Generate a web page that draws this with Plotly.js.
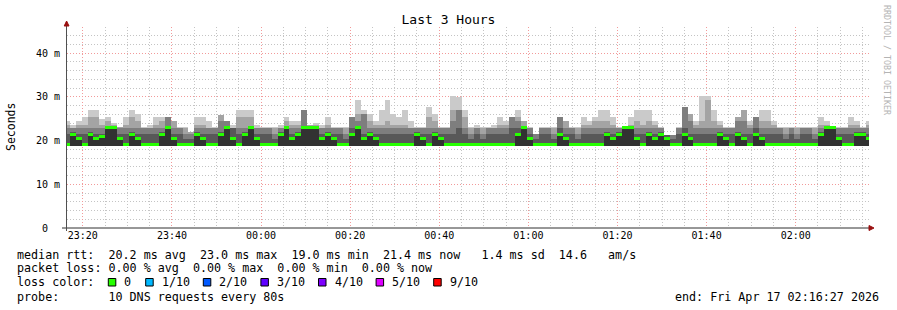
<!DOCTYPE html>
<html><head><meta charset="utf-8">
<script src="https://cdn.plot.ly/plotly-3.0.1.min.js"></script>
<style>html,body{margin:0;padding:0;background:#fff;}#chart{width:897px;height:310px;}</style>
</head><body><div id="chart"></div>
<script>
// ---- time axis ----
const firstStepUTC = Date.UTC(2026, 3, 16, 23, 15, 43);
const stepSeconds = 80;
const rangeStartUTC = Date.UTC(2026, 3, 16, 23, 16, 27);
const rangeEndUTC = Date.UTC(2026, 3, 17, 2, 16, 27);

// ---- data (ms), one value per 80 s step ----
const minRtt = [
18.8,18.8,18.8,18.8,18.8,18.8,18.8,18.8,18.8,18.8,
18.8,18.8,18.8,18.8,18.8,18.8,18.8,18.8,18.8,18.8,
18.8,18.8,18.8,18.8,18.8,18.8,18.8,18.8,18.8,18.8,
18.8,18.8,18.8,18.8,18.8,18.8,18.8,18.8,18.8,18.8,
18.8,18.8,18.8,18.8,18.8,18.8,18.8,18.8,18.8,18.8,
18.8,18.8,18.8,18.8,18.8,18.8,18.8,18.8,18.8,18.8,
18.8,18.8,18.8,18.8,18.8,18.8,18.8,18.8,18.8,18.8,
18.8,18.8,18.8,18.8,18.8,18.8,18.8,18.8,18.8,18.8,
18.8,18.8,18.8,18.8,18.8,18.8,18.8,18.8,18.8,18.8,
18.8,18.8,18.8,18.8,18.8,18.8,18.8,18.8,18.8,18.8,
18.8,18.8,18.8,18.8,18.8,18.8,18.8,18.8,18.8,18.8,
18.8,18.8,18.8,18.8,18.8,18.8,18.8,18.8,18.8,18.8,
18.8,18.8,18.8,18.8,18.8,18.8,18.8,18.8,18.8,18.8,
18.8,18.8,18.8,18.8,18.8,18.8];
const medianRtt = [
19.0,21.4,20.4,19.0,21.4,20.4,20.9,22.9,22.9,20.4,
19.0,21.4,20.4,19.0,19.0,19.0,21.4,22.9,20.4,19.0,
19.0,19.0,21.4,20.4,19.0,19.0,21.4,22.9,20.4,19.0,
21.4,22.9,20.4,19.0,19.0,19.0,21.4,22.9,20.4,21.4,
22.9,22.9,22.9,20.4,21.4,20.4,19.0,19.0,21.4,22.9,
20.4,21.4,20.4,19.0,19.0,19.0,19.0,19.0,19.0,21.4,
20.4,19.0,21.4,20.4,19.0,19.0,19.0,19.0,19.0,19.0,
19.0,19.0,19.0,19.0,19.0,19.0,21.4,22.9,20.4,19.0,
19.0,19.0,19.0,21.4,20.4,19.0,19.0,19.0,19.0,19.0,
19.0,21.4,20.4,21.4,22.9,22.9,20.4,19.0,21.4,20.4,
21.4,20.4,19.0,19.0,21.4,20.4,19.0,19.0,19.0,19.0,
21.4,20.4,19.0,21.4,20.4,19.0,21.4,20.4,19.0,19.0,
19.0,19.0,19.0,19.0,19.0,19.0,19.0,21.4,22.9,22.9,
20.4,19.0,19.0,21.4,21.4,20.4];
const ping7 = [
21.4,22.0,21.4,21.4,22.0,21.4,21.4,22.9,22.9,21.4,
21.4,22.0,21.4,21.4,21.4,21.4,22.0,22.9,21.4,21.4,
20.4,20.4,22.0,21.4,21.4,21.4,22.0,22.9,22.9,21.4,
22.0,22.9,21.4,21.4,21.4,20.4,22.0,22.9,21.4,22.0,
22.9,22.9,22.9,21.4,22.0,21.4,21.4,20.4,22.9,22.9,
21.4,22.0,21.4,21.4,21.4,21.4,21.4,21.4,21.4,22.0,
21.4,21.4,22.0,21.4,21.4,21.4,22.9,21.4,20.4,21.4,
20.4,21.4,21.4,21.4,21.4,22.9,22.9,22.9,21.4,20.4,
21.4,21.4,20.4,22.9,21.4,21.4,20.4,21.4,21.4,21.4,
21.4,22.0,21.4,22.0,22.9,22.9,21.4,21.4,22.0,21.4,
22.0,21.2,20.4,21.4,22.9,21.4,21.4,21.4,21.4,21.4,
22.0,21.4,21.4,22.0,21.4,21.4,22.9,21.4,21.4,21.4,
21.4,20.4,21.4,20.4,21.4,21.4,20.4,22.0,22.9,22.9,
21.4,21.4,21.4,22.0,22.0,21.4];
const ping8 = [
22.9,22.9,22.9,22.9,22.9,22.9,22.9,22.9,22.9,22.9,
22.9,22.9,22.9,22.9,22.9,22.9,22.9,25.4,22.9,22.9,
21.4,21.4,22.9,22.9,22.9,22.9,24.4,24.4,22.9,22.9,
22.9,22.9,22.9,22.9,22.9,21.4,22.9,22.9,22.9,22.9,
26.9,22.9,22.9,22.9,22.9,22.9,22.9,21.4,25.4,24.4,
26.1,22.9,22.9,22.9,22.9,22.9,22.9,22.9,22.9,22.9,
22.9,22.9,22.9,22.9,22.9,24.4,26.9,22.9,21.4,22.9,
21.4,22.9,22.9,22.9,22.9,25.4,24.4,22.9,22.9,21.4,
22.9,22.9,21.4,25.4,22.9,22.9,21.4,22.9,22.9,22.9,
22.9,22.9,22.9,22.9,22.9,22.9,22.9,22.9,22.9,22.9,
22.9,21.2,21.2,22.9,27.7,24.4,22.9,22.9,22.9,22.9,
22.9,22.9,22.9,24.4,24.4,22.9,25.4,22.9,22.9,22.9,
22.9,21.4,22.9,21.4,22.9,22.9,21.4,22.9,22.9,22.9,
22.9,22.9,22.9,22.9,22.9,22.9];
const ping9 = [
23.5,22.9,23.5,23.5,25.4,25.4,23.5,24.4,23.5,23.0,
23.5,25.4,24.4,22.9,22.9,23.5,24.4,25.4,24.4,22.9,
22.9,22.0,23.5,23.5,22.9,22.9,25.8,24.4,22.9,25.4,
25.4,25.4,22.9,22.9,22.9,22.9,22.9,24.4,23.5,23.5,
26.9,23.5,23.5,22.9,23.5,22.9,22.9,22.9,25.4,26.1,
26.1,24.4,23.5,23.5,24.4,23.5,23.5,23.5,22.9,22.9,
22.9,25.4,24.4,22.9,22.9,26.9,26.9,25.4,22.9,22.9,
22.9,22.9,22.9,23.5,23.5,25.4,25.4,24.4,22.9,21.4,
22.9,22.9,22.9,25.4,24.4,22.9,22.9,23.5,23.5,24.4,
24.4,24.4,23.5,22.9,22.9,23.5,24.4,23.5,24.4,23.5,
22.9,21.2,21.2,22.9,27.7,26.1,23.5,24.4,29.2,24.4,
23.5,22.9,22.9,25.4,26.9,23.5,25.4,24.4,24.4,23.5,
22.9,22.9,22.9,22.9,22.9,22.9,22.9,23.5,23.5,22.9,
22.9,22.9,23.5,23.5,22.9,23.5];
const maxRtt = [
24.4,23.5,24.4,25.4,26.9,26.9,25.0,25.4,24.0,23.0,
25.4,26.9,26.1,23.0,23.5,25.4,25.4,25.4,24.4,23.0,
23.0,22.0,25.4,25.4,24.4,23.0,25.8,24.4,23.5,26.9,
26.9,26.9,23.5,23.0,23.0,23.0,23.5,25.4,24.4,24.4,
26.9,23.5,24.0,23.5,25.4,23.0,23.0,23.0,25.4,29.2,
26.9,26.1,24.4,26.9,29.2,26.1,25.4,26.9,24.4,23.0,
23.0,27.7,26.1,23.0,23.0,30.2,30.0,26.9,23.0,23.5,
23.0,23.0,23.5,25.4,24.4,25.4,26.9,24.4,23.0,21.4,
23.0,23.0,23.0,25.4,24.4,23.0,23.0,25.4,24.4,25.4,
26.9,26.9,25.4,23.0,23.0,25.4,26.9,26.9,26.9,24.4,
23.0,21.2,21.2,23.0,27.7,26.1,24.4,30.2,30.2,26.9,
24.4,23.0,23.0,25.4,26.9,24.4,25.4,26.9,26.9,24.4,
23.0,23.0,23.0,23.0,23.0,23.0,23.0,25.4,24.4,23.0,
23.0,23.0,25.4,24.4,23.0,24.4];

const lossLabels = ['0', '1/10', '2/10', '3/10', '4/10', '5/10', '9/10'];
const lossColors = ['#26ff00', '#00b8ff', '#0059ff', '#5e00ff', '#7e00ff', '#dd00ff', '#ff0000'];
const yTickAlias = {'0': '0\u00a0\u00a0', '10': '10 m', '20': '20 m', '30': '30 m', '40': '40 m'};
const statsLines = [
  'median rtt:  20.2 ms avg  23.0 ms max  19.0 ms min  21.4 ms now   1.4 ms sd  14.6   am/s',
  'packet loss: 0.00 % avg  0.00 % max  0.00 % min  0.00 % now',
  'loss color:',
  'probe:       10 DNS requests every 80s'
];
const endLabel = 'end: Fri Apr 17 02:16:27 2026';

// ---- geometry helpers (pixel -> paper) ----
const PL = 67, PR = 869, PT = 27, PB = 228;
const px = x => (x - PL) / (PR - PL);
const py = y => (PB - y) / (PB - PT);
const nb = s => s.replace(/ /g, '\u00a0');
const MONO = 'DejaVu Sans Mono, Liberation Mono, monospace';

const xCenters = medianRtt.map((_, i) => firstStepUTC + (i * stepSeconds + stepSeconds / 2) * 1000);

function band(top, color) {
  return {
    type: 'bar', x: xCenters, base: minRtt,
    y: top.map((v, i) => v - minRtt[i]),
    width: stepSeconds * 1000,
    marker: {color: color, line: {width: 0}},
    hoverinfo: 'skip', showlegend: false
  };
}
const traces = [
  band(maxRtt, '#cacaca'),
  band(ping9, '#a4a4a4'),
  band(ping8, '#7e7e7e'),
  band(ping7, '#585858'),
  band(medianRtt, '#323232'),
  {
    type: 'bar', x: xCenters,
    base: medianRtt.map(v => v - 0.34),
    y: medianRtt.map(() => 0.69),
    width: stepSeconds * 1000,
    marker: {color: lossColors[0], line: {width: 0}},
    hoverinfo: 'skip', showlegend: false
  }
];

const annotations = [];
const shapes = [];
const lineY = [254.5, 268.3, 282.3, 296.5];
statsLines.forEach((t, i) => annotations.push({
  text: nb(t), x: px(15), y: py(lineY[i]), xref: 'paper', yref: 'paper',
  xanchor: 'left', yanchor: 'middle', showarrow: false,
  font: {family: MONO, size: 11.7, color: '#000'}
}));
annotations.push({
  text: nb(endLabel), x: px(881), y: py(lineY[3]), xref: 'paper', yref: 'paper',
  xanchor: 'right', yanchor: 'middle', showarrow: false,
  font: {family: MONO, size: 11.7, color: '#000'}
});
lossLabels.forEach((lab, i) => {
  const bx = i === 0 ? 108.3 : 145.7 + 57.6 * (i - 1);
  shapes.push({type: 'rect', xref: 'paper', yref: 'paper',
    x0: px(bx), x1: px(bx + 7.5), y0: py(286), y1: py(278.5),
    fillcolor: lossColors[i], line: {color: '#000', width: 1}});
  annotations.push({
    text: nb(lab), x: px(bx + 14), y: py(lineY[2]), xref: 'paper', yref: 'paper',
    xanchor: 'left', yanchor: 'middle', showarrow: false,
    font: {family: MONO, size: 11.7, color: '#000'}
  });
});
annotations.push({
  text: 'Seconds', textangle: -90, x: px(11), y: py(127), xref: 'paper', yref: 'paper',
  xanchor: 'center', yanchor: 'middle', showarrow: false,
  font: {family: MONO, size: 11.5, color: '#000'}
});
annotations.push({
  text: nb('RRDTOOL / TOBI OETIKER'), textangle: 90, x: px(887), y: py(60), xref: 'paper', yref: 'paper',
  xanchor: 'center', yanchor: 'middle', showarrow: false,
  font: {family: MONO, size: 8.3, color: '#b4b4b4'}
});

// axes lines and arrows
shapes.push({type: 'line', xref: 'paper', yref: 'paper', x0: px(62), x1: px(870), y0: 0, y1: 0,
  line: {color: '#303030', width: 1}});
shapes.push({type: 'line', xref: 'paper', yref: 'paper', x0: px(66.5), x1: px(66.5), y0: py(231), y1: py(25),
  line: {color: '#505050', width: 1}});
shapes.push({type: 'path', xref: 'paper', yref: 'paper',
  path: `M${px(869)},${py(225.5)} L${px(874)},${py(228)} L${px(869)},${py(230.5)} Z`,
  fillcolor: '#9a1010', line: {color: '#9a1010', width: 1}});
shapes.push({type: 'path', xref: 'paper', yref: 'paper',
  path: `M${px(64.2)},${py(26)} L${px(66.6)},${py(21)} L${px(69)},${py(26)} Z`,
  fillcolor: '#9a1010', line: {color: '#9a1010', width: 1}});

const layout = {
  width: 897, height: 310,
  margin: {l: PL, r: 897 - PR, t: PT, b: 310 - PB, pad: 0},
  paper_bgcolor: '#ffffff', plot_bgcolor: '#ffffff',
  barmode: 'overlay', bargap: 0, showlegend: false,
  font: {family: MONO, size: 10, color: '#000'},
  title: {text: 'Last 3 Hours', x: 0.5, xanchor: 'center', y: 1 - 19 / 310, yanchor: 'middle',
    font: {family: MONO, size: 13, color: '#000'}},
  xaxis: {
    type: 'date', range: [rangeStartUTC, rangeEndUTC],
    tick0: Date.UTC(2026, 3, 16, 23, 20), dtick: 1200000, tickformat: '%H:%M',
    showgrid: true, gridcolor: '#f29a9a', griddash: '1px,2px', gridwidth: 1,
    minor: {dtick: 300000, showgrid: true, gridcolor: '#c4c4c4', griddash: '1px,2px', gridwidth: 1},
    showline: false, zeroline: false, ticks: '', tickfont: {family: MONO, size: 10, color: '#000'},
    fixedrange: true
  },
  yaxis: {
    range: [0, 45.95], tickmode: 'linear', tick0: 0, dtick: 10, labelalias: yTickAlias,
    showgrid: true, gridcolor: '#f29a9a', griddash: '1px,2px', gridwidth: 1,
    minor: {dtick: 2, tick0: 0, showgrid: true, gridcolor: '#c4c4c4', griddash: '1px,2px', gridwidth: 1},
    showline: false, zeroline: false, ticks: '', ticklabelstandoff: 6,
    tickfont: {family: MONO, size: 10, color: '#000'}, fixedrange: true
  },
  annotations: annotations,
  shapes: shapes
};

Plotly.newPlot('chart', traces, layout, {displayModeBar: false, staticPlot: true});
</script>
</body></html>
